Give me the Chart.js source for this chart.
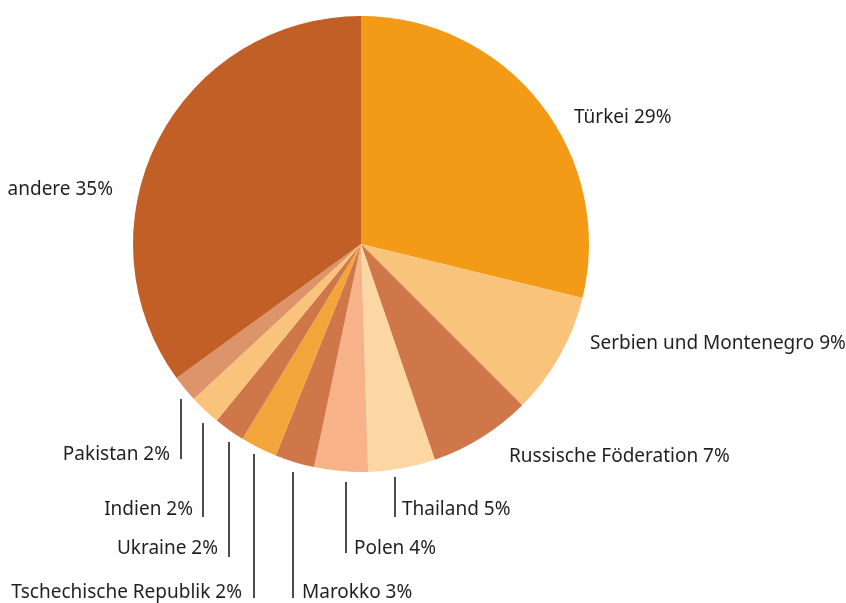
<!DOCTYPE html>
<html>
<head>
<meta charset="utf-8">
<script src="https://cdn.jsdelivr.net/npm/chart.js@4/dist/chart.umd.min.js"></script>
<style>
  html, body { margin: 0; padding: 0; background: #fff; }
  #wrap { width: 846px; height: 603px; position: relative; }
</style>
</head>
<body>
<div id="wrap"><canvas id="pieChart"></canvas></div>
<script>
const countries = ['Türkei', 'Serbien und Montenegro', 'Russische Föderation', 'Thailand', 'Polen',
  'Marokko', 'Tschechische Republik', 'Ukraine', 'Indien', 'Pakistan', 'andere'];
// slice sizes (percent)
const shares = [28.8, 8.7, 7.25, 4.75, 3.8, 2.8, 2.6, 2.2, 2.2, 1.9, 35.0];
// rounded percentages as printed on the labels
const pctLabels = [29, 9, 7, 5, 4, 3, 2, 2, 2, 2, 35];
const colors = ['#F39A17', '#F9C37C', '#CF7749', '#FCD7A3', '#F7B387', '#CF7749',
  '#F3A43B', '#CF7749', '#F9C37C', '#DD946A', '#C15F26'];

// label anchor: [x, y, align, leader line x, leader top, leader bottom]
const labelPos = [
  [574, 118, 'left'],
  [590, 344, 'left'],
  [509, 457, 'left'],
  [402, 510, 'left', 395, 477, 517],
  [354, 549, 'left', 346, 482, 553],
  [302, 593, 'left', 293, 472, 598],
  [242, 593, 'right', 254, 454, 598],
  [218, 549, 'right', 229, 442, 557],
  [193, 510, 'right', 203, 423, 517],
  [170, 455, 'right', 181, 399, 459],
  [113, 190, 'right']
];

const labelPlugin = {
  id: 'sliceLabels',
  afterDraw(chart) {
    const ctx = chart.ctx;
    ctx.save();
    ctx.font = '19px "Noto Sans"';
    ctx.fillStyle = '#231f20';
    ctx.strokeStyle = '#231f20';
    ctx.lineWidth = 1.6;
    ctx.textBaseline = 'middle';
    countries.forEach((c, i) => {
      const p = labelPos[i];
      ctx.textAlign = p[2];
      ctx.fillText(c + ' ' + pctLabels[i] + '%', p[0], p[1]);
      if (p.length > 3) {
        ctx.beginPath();
        ctx.moveTo(p[3], p[4]);
        ctx.lineTo(p[3], p[5]);
        ctx.stroke();
      }
    });
    ctx.restore();
  }
};

const pieCtx = document.getElementById('pieChart').getContext('2d');
const pieChart = new Chart(pieCtx, {
  type: 'pie',
  data: {
    labels: countries,
    datasets: [{
      data: shares,
      backgroundColor: colors,
      borderWidth: 0
    }]
  },
  options: {
    responsive: true,
    maintainAspectRatio: false,
    animation: false,
    layout: { padding: { left: 133, right: 257, top: 16, bottom: 131 } },
    plugins: {
      legend: { display: false },
      tooltip: { enabled: false }
    }
  },
  plugins: [labelPlugin]
});
</script>
</body>
</html>
